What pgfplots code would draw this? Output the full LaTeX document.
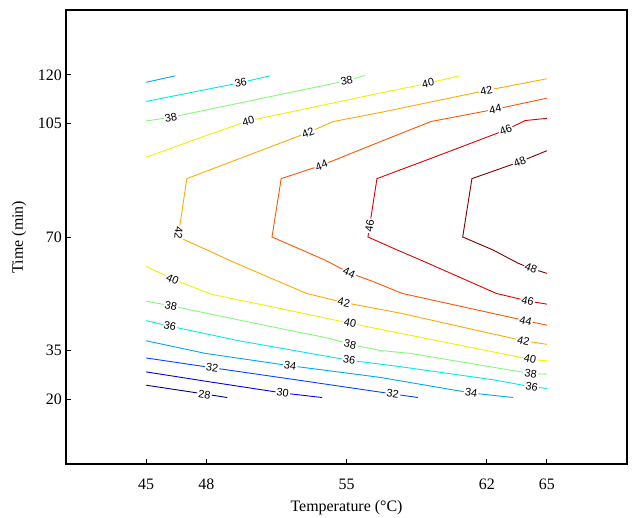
\documentclass[border=0pt]{standalone}
\usepackage{fontspec}
\setmainfont{Liberation Serif}
\newfontfamily\lblfont{Liberation Sans}
\usepackage{pgfplots}
\pgfplotsset{compat=1.18}

% jet-like colours, one per contour level
\definecolor{c28}{RGB}{0,0,140}
\definecolor{c30}{RGB}{0,0,225}
\definecolor{c32}{RGB}{0,70,255}
\definecolor{c34}{RGB}{0,165,255}
\definecolor{c36}{RGB}{0,235,230}
\definecolor{c38}{RGB}{130,250,120}
\definecolor{c40}{RGB}{240,240,0}
\definecolor{c42}{RGB}{255,170,0}
\definecolor{c44}{RGB}{255,85,0}
\definecolor{c46}{RGB}{225,0,0}
\definecolor{c48}{RGB}{128,0,0}

\begin{document}
\fontsize{16}{19}\selectfont
\begin{tikzpicture}[lbl/.style={fill=white, inner sep=1.2bp, text=black, font=\lblfont\fontsize{11}{12}\selectfont}]
\begin{axis}[
    scale only axis,
    width=561bp, height=454bp,
    xmin=41, xmax=69, ymin=0, ymax=140,
    xtick={45,48,55,62,65},
    ytick={20,35,70,105,120},
    tick pos=left,
    tick align=inside,
    major tick length=5bp,
    major tick style={black, line width=0.8pt},
    axis line style={line width=1.1pt},
    /pgf/number format/assume math mode=true,
    xticklabel style={anchor=base, yshift=-25bp, inner sep=0pt},
    yticklabel style={inner sep=0pt, xshift=-4bp},
    xlabel={Temperature (°C)},
    ylabel={Time (min)},
    xlabel style={at={(axis description cs:0.5,0)}, anchor=base, yshift=-47bp, inner sep=0pt},
    ylabel style={at={(axis description cs:0,0.5)}, anchor=center, yshift=47bp, inner sep=0pt},
    every axis plot/.append style={line width=0.9pt},
]
% level 28
\addplot[c28] coordinates {(45,24.3) (47.9,21.6) (49.05,20.5)};
% level 30
\addplot[c30] coordinates {(45,28.4) (48,25.5) (51.82,21.9) (53.78,20.5)};
% level 32
\addplot[c32] coordinates {(45,32.7) (48.29,29.7) (53,25.5) (57.31,21.6) (58.57,20.5)};
% level 34
\addplot[c34] coordinates {(45,38.0) (47.96,34.1) (52.19,30.3) (56.69,26.7) (61.22,21.9) (63.32,20.5)};
\addplot[c34] coordinates {(45,117.7) (46.45,119.7)};
% level 36
\addplot[c36] coordinates {(45,44.2) (46.19,42.5) (49.63,38.0) (55.14,32.0) (57.70,30.0) (62.40,25.9) (64.24,23.8) (65,23.3)};
\addplot[c36] coordinates {(45,111.8) (49.72,117.6) (51.18,119.7)};
% level 38
\addplot[c38] coordinates {(45,50.2) (46.24,48.8) (49.63,44.4) (54.17,38.7) (55.18,36.9) (56.69,35.0) (58.2,34.1) (64.19,27.9) (65,27.7)};
\addplot[c38] coordinates {(45,105.8) (46.24,106.9) (55.01,118.2) (55.93,119.8)};
% level 40
\addplot[c40] coordinates {(45,61.0) (46.32,57.0) (48.29,52.3) (51.65,48.0) (55.18,43.4) (57.70,40.3) (64.16,32.3) (65,31.8)};
\addplot[c40] coordinates {(45,94.6) (47.96,101.2) (50.10,105.8) (56.69,114.4) (59.07,117.4) (60.63,119.7)};
% level 42
\addplot[c42] coordinates {(65,118.8) (61.98,115.2) (56.69,108.4) (54.34,105.6) (53.08,102.2) (47.03,88) (46.6,70) (48.04,66.0) (49.38,62.2) (53.0,52.6) (54.87,49.8) (57.70,46.5) (63.83,38.0) (65,36.9)};
% level 44
\addplot[c44] coordinates {(65,112.8) (62.43,109.4) (59.21,105.6) (56.69,99.4) (53.75,92.1) (51.74,88) (51.28,70) (52.77,66.0) (53.92,62.9) (55.13,59.0) (56.35,56.2) (57.78,52.6) (63.94,44.2) (65,42.8)};
% level 46
\addplot[c46] coordinates {(65,106.6) (63.91,105.9) (62.95,103.0) (59.37,94.6) (56.52,88) (56.07,70) (57.53,66.0) (58.70,62.9) (62.48,52.6) (64.04,50.3) (65,49.3)};
% level 48
\addplot[c48] coordinates {(65,96.6) (63.65,93.2) (61.26,88) (60.80,70) (62.31,66.0) (63.57,61.9) (64.21,60.3) (65,58.8)};

% contour labels
\node[lbl, rotate=-8.6] at (47.91,21.5) {28};
\node[lbl, rotate=-8.2] at (51.82,21.9) {30};
\node[lbl, rotate=-8] at (48.29,29.7) {32};
\node[lbl, rotate=-8.5] at (57.31,21.6) {32};
\node[lbl, rotate=-7.9] at (52.19,30.3) {34};
\node[lbl, rotate=-8.6] at (61.22,21.9) {34};
\node[lbl, rotate=-12.4] at (46.19,42.5) {36};
\node[lbl, rotate=-9.2] at (55.14,32.0) {36};
\node[lbl, rotate=-9.2] at (64.24,23.8) {36};
\node[lbl, rotate=12] at (49.72,117.6) {36};
\node[lbl, rotate=-11.9] at (46.24,48.8) {38};
\node[lbl, rotate=-11.5] at (55.18,36.9) {38};
\node[lbl, rotate=-8.8] at (64.19,27.9) {38};
\node[lbl, rotate=11] at (46.24,106.9) {38};
\node[lbl, rotate=12] at (55.01,118.2) {38};
\node[lbl, rotate=-24] at (46.32,57.0) {40};
\node[lbl, rotate=-11.8] at (55.18,43.4) {40};
\node[lbl, rotate=-10.8] at (64.16,32.3) {40};
\node[lbl, rotate=14] at (50.10,105.8) {40};
\node[lbl, rotate=12.3] at (59.07,117.4) {40};
\node[lbl, rotate=21] at (53.08,102.2) {42};
\node[lbl, rotate=11.5] at (61.98,115.2) {42};
\node[lbl, rotate=-95] at (46.62,71.3) {42};
\node[lbl, rotate=-12] at (54.87,49.8) {42};
\node[lbl, rotate=-12.7] at (63.83,38.0) {42};
\node[lbl, rotate=20.7] at (53.75,92.1) {44};
\node[lbl, rotate=11.6] at (62.43,109.4) {44};
\node[lbl, rotate=-23.5] at (55.13,59.0) {44};
\node[lbl, rotate=-12.6] at (63.94,44.2) {44};
\node[lbl, rotate=21] at (62.95,103.0) {46};
\node[lbl, rotate=81] at (56.15,73.5) {46};
\node[lbl, rotate=-12.3] at (64.04,50.3) {46};
\node[lbl, rotate=21] at (63.65,93.2) {48};
\node[lbl, rotate=-21] at (64.21,60.3) {48};
\end{axis}
\path (current axis.south west) ++(-66bp,-54bp) rectangle ++(635bp,518bp);
\end{tikzpicture}
\end{document}
